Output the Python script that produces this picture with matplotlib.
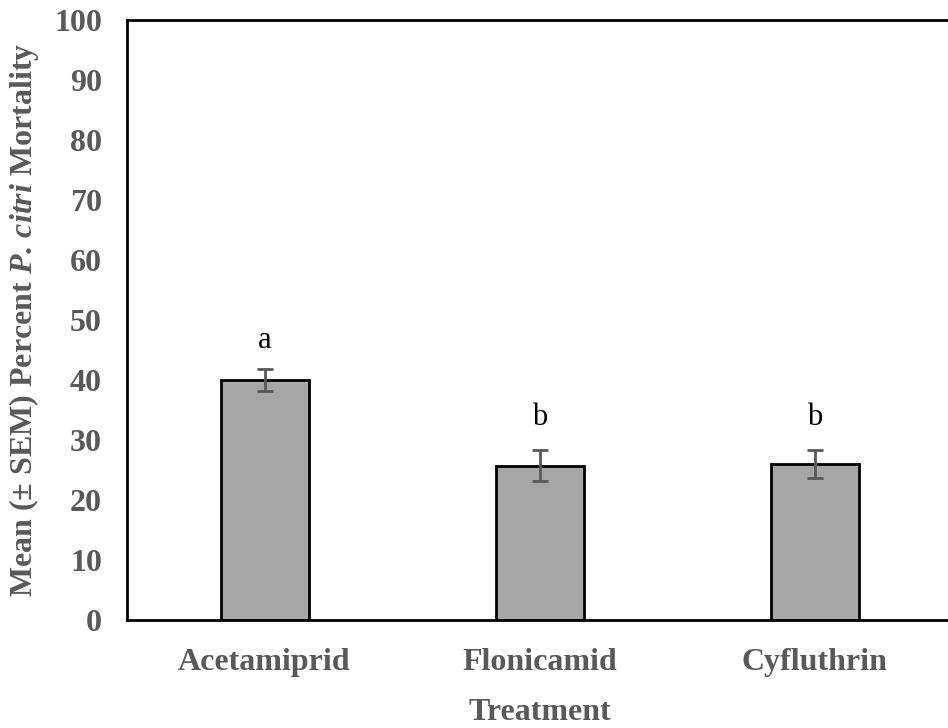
import numpy as np
import matplotlib
matplotlib.use('Agg')
import matplotlib.pyplot as plt

treatments = ['Acetamiprid', 'Flonicamid', 'Cyfluthrin']
means = [40.0, 25.7, 26.0]
sems = [1.8, 2.6, 2.3]
letters = ['a', 'b', 'b']
letter_y = [46.5, 33.8, 33.8]

plt.rcParams['font.family'] = 'Liberation Serif'
plt.rcParams['mathtext.fontset'] = 'custom'
plt.rcParams['mathtext.rm'] = 'Liberation Serif:bold'
plt.rcParams['mathtext.it'] = 'Liberation Serif:italic:bold'
plt.rcParams['mathtext.bf'] = 'Liberation Serif:bold'

txt = '#595959'

fig = plt.figure(figsize=(9.48, 7.28), dpi=100)
ax = fig.add_axes([127 / 948, 108 / 728, 825 / 948, 600 / 728])

x = np.arange(len(treatments))
ax.bar(x, means, width=0.32, color='#A6A6A6', edgecolor='black', linewidth=2,
       yerr=sems, error_kw=dict(ecolor='#595959', elinewidth=2, capsize=6, capthick=2))

for xi, l, ly in zip(x, letters, letter_y):
    ax.text(xi, ly, l, ha='center', va='center', fontsize=22, color='black')

ax.set_xlim(-0.5, 2.5)
ax.set_ylim(0, 100)
ax.set_yticks(range(0, 101, 10))
ax.set_xticks(x)
ax.set_xticklabels(treatments)
ax.tick_params(length=0, labelsize=23, labelcolor=txt)
ax.tick_params(axis='y', pad=18)
ax.tick_params(axis='x', pad=20)
for lab in ax.get_xticklabels() + ax.get_yticklabels():
    lab.set_fontweight('bold')

for s in ['left', 'top', 'bottom']:
    ax.spines[s].set_linewidth(2)
ax.spines['right'].set_visible(False)

ax.set_xlabel('Treatment', fontsize=23, fontweight='bold', color=txt, labelpad=15)
ax.set_ylabel(r'Mean (± SEM) Percent $\mathit{P.\,citri}$ Mortality', fontsize=23,
              fontweight='bold', color=txt)
ax.yaxis.set_label_coords(-86 / 825, 0.5)

fig.savefig('out.png', dpi=100)
